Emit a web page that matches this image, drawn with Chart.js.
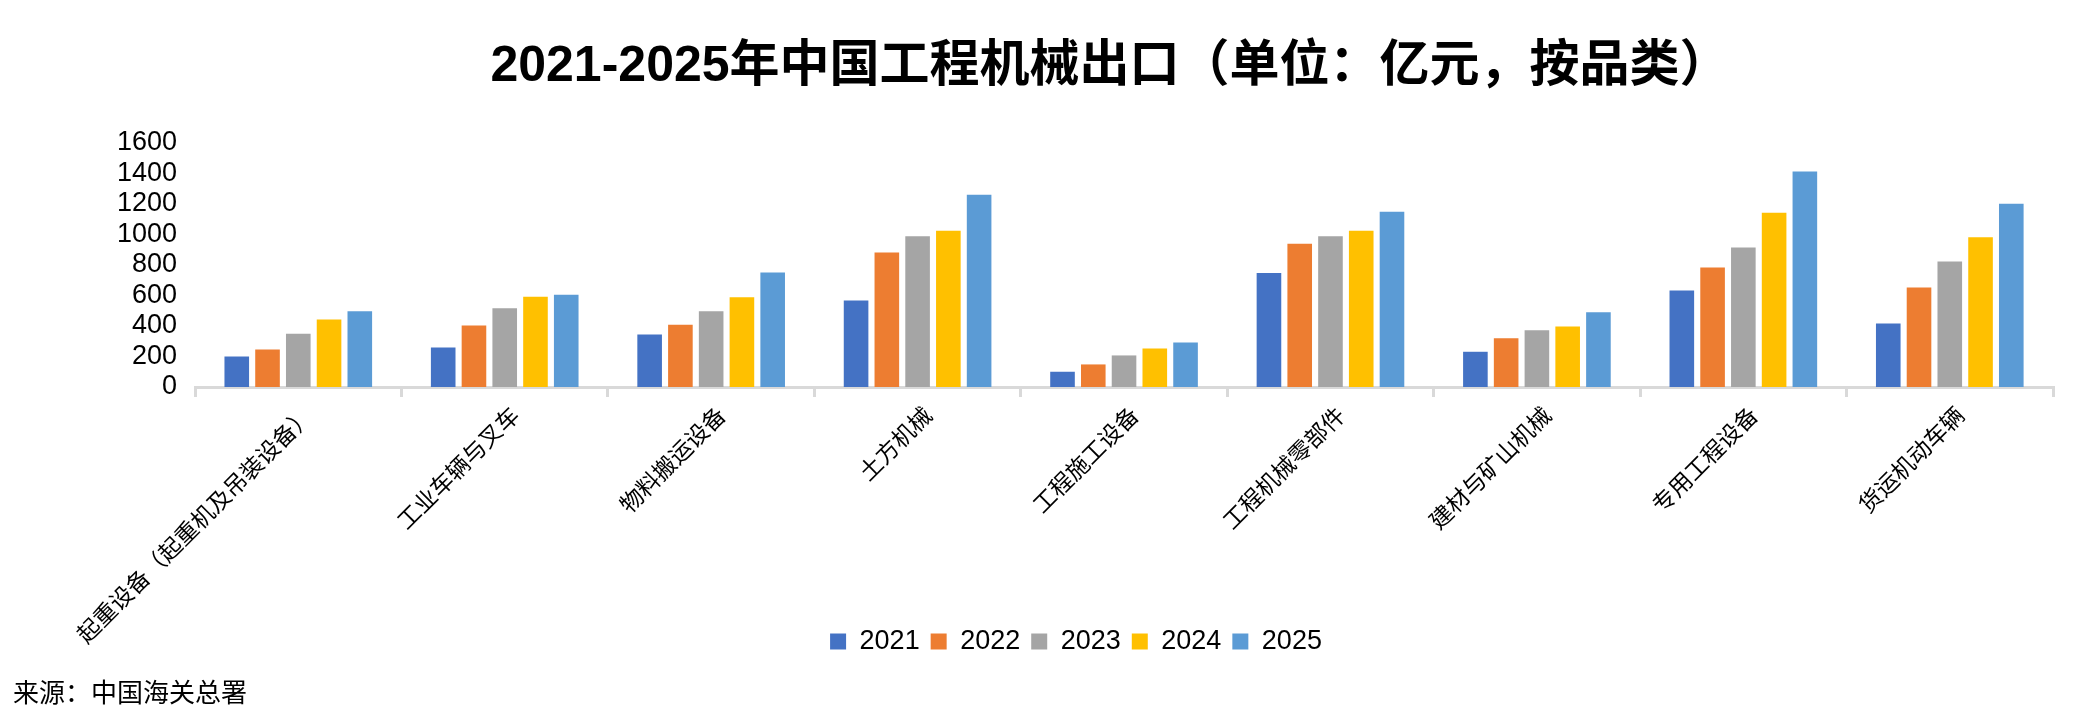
<!DOCTYPE html>
<html>
<head>
<meta charset="utf-8">
<script src="https://cdn.jsdelivr.net/npm/chart.js@4.4.1/dist/chart.umd.min.js"></script>
<style>
  html, body { margin: 0; padding: 0; background: #fff; }
  #wrap { position: relative; width: 2080px; height: 712px; }
  #title {
    position: absolute; left: 0; top: 23px; width: 2220px; height: 60px;
    line-height: 60px; text-align: center; color: #000;
    font: bold 50px "Liberation Sans", "Noto Sans CJK SC", sans-serif;
  }
  #source {
    position: absolute; left: 13px; top: 672px; line-height: 34px;
    font: 26px "Liberation Sans", "Noto Sans CJK SC", sans-serif; color: #000;
  }
</style>
</head>
<body>
<div id="wrap">
  <canvas id="chart"></canvas>
  <div id="title">2021-2025年中国工程机械出口（单位：亿元，按品类）</div>
  <div id="source">来源：中国海关总署</div>
</div>
<script>
// 数据（亿元）
const categories = ['起重设备（起重机及吊装设备）', '工业车辆与叉车', '物料搬运设备', '土方机械',
  '工程施工设备', '工程机械零部件', '建材与矿山机械', '专用工程设备', '货运机动车辆'];
const years = ['2021', '2022', '2023', '2024', '2025'];
const v2021 = [200, 259, 344, 568, 100, 747, 231, 633, 416];
const v2022 = [246, 403, 409, 882, 148, 940, 320, 784, 653];
const v2023 = [350, 516, 496, 988, 207, 988, 372, 914, 823];
const v2024 = [442, 592, 588, 1025, 253, 1025, 396, 1143, 982];
const v2025 = [496, 605, 751, 1260, 292, 1149, 490, 1413, 1202];
const yMax = 1600;
const yStep = 200;

const colors = ['#4472C4', '#ED7D31', '#A5A5A5', '#FFC000', '#5B9BD5'];
const series = [v2021, v2022, v2023, v2024, v2025];

const ctx = document.getElementById('chart').getContext('2d');
new Chart(ctx, {
  type: 'bar',
  data: {
    labels: categories,
    datasets: years.map((y, i) => ({
      label: y,
      data: series[i],
      backgroundColor: colors[i],
      barPercentage: 0.8,
      categoryPercentage: 0.745
    }))
  },
  options: {
    responsive: true,
    maintainAspectRatio: false,
    animation: false,
    layout: { padding: { left: 99, right: 27, top: 143, bottom: 47 } },
    plugins: {
      title: { display: false },
      legend: {
        position: 'bottom',
        labels: {
          color: '#000',
          boxWidth: 16,
          boxHeight: 16,
          padding: 11,
          font: { family: '"Liberation Sans", sans-serif', size: 27 }
        }
      },
      tooltip: { enabled: false }
    },
    scales: {
      x: {
        // 斜排标签可伸到图例那一行（图例在右侧，不会重叠）
        afterFit: scale => {
          scale.height = 230;
          scale.paddingLeft = 0;
          scale.paddingRight = 0;
          scale._computeLabelArea = () => null;
        },
        grid: { drawOnChartArea: false, drawTicks: true, tickLength: 10, color: '#D9D9D9', lineWidth: 3 },
        border: { display: true, color: '#D9D9D9', width: 3 },
        ticks: {
          color: '#000',
          maxRotation: 45,
          minRotation: 45,
          autoSkip: false,
          padding: 4,
          labelOffset: 10,
          font: { family: '"Noto Sans CJK SC", sans-serif', size: 23 }
        }
      },
      y: {
        min: 0,
        max: yMax,
        grid: { display: false, drawTicks: false },
        border: { display: false },
        ticks: {
          stepSize: yStep,
          autoSkip: false,
          color: '#000',
          padding: 18,
          callback: v => String(v),
          font: { family: '"Liberation Sans", sans-serif', size: 27 }
        }
      }
    }
  }
});
</script>
</body>
</html>
